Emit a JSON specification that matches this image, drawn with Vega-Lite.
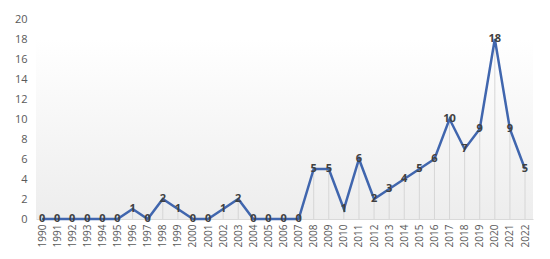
{
  "$schema": "https://vega.github.io/schema/vega-lite/v6.json",
  "width": 497,
  "height": 200,
  "autosize": {"type": "none"},
  "padding": {"left": 36, "top": 19, "right": 17, "bottom": 40},
  "background": "#ffffff",
  "config": {
    "view": {"stroke": null},
    "font": "Open Sans"
  },
  "data": {
    "values": [
      {"year": 1990, "count": 0}, {"year": 1991, "count": 0}, {"year": 1992, "count": 0},
      {"year": 1993, "count": 0}, {"year": 1994, "count": 0}, {"year": 1995, "count": 0},
      {"year": 1996, "count": 1}, {"year": 1997, "count": 0}, {"year": 1998, "count": 2},
      {"year": 1999, "count": 1}, {"year": 2000, "count": 0}, {"year": 2001, "count": 0},
      {"year": 2002, "count": 1}, {"year": 2003, "count": 2}, {"year": 2004, "count": 0},
      {"year": 2005, "count": 0}, {"year": 2006, "count": 0}, {"year": 2007, "count": 0},
      {"year": 2008, "count": 5}, {"year": 2009, "count": 5}, {"year": 2010, "count": 1},
      {"year": 2011, "count": 6}, {"year": 2012, "count": 2}, {"year": 2013, "count": 3},
      {"year": 2014, "count": 4}, {"year": 2015, "count": 5}, {"year": 2016, "count": 6},
      {"year": 2017, "count": 10}, {"year": 2018, "count": 7}, {"year": 2019, "count": 9},
      {"year": 2020, "count": 18}, {"year": 2021, "count": 9}, {"year": 2022, "count": 5}
    ]
  },
  "encoding": {
    "x": {
      "field": "year", "type": "quantitative",
      "scale": {"domain": [1989.6, 2022.53], "nice": false, "zero": false},
      "axis": {"values": [1990,1991,1992,1993,1994,1995,1996,1997,1998,1999,2000,2001,2002,2003,2004,2005,2006,2007,2008,2009,2010,2011,2012,2013,2014,2015,2016,2017,2018,2019,2020,2021,2022],
        "format": "d", "labelAngle": -90, "labelAlign": "right", "labelBaseline": "middle", "labelPadding": 5,
        "domain": true, "domainColor": "#d9d9d9", "labelFontSize": 10, "labelOverlap": false, "labelFlush": false,
        "labelColor": "#595959", "labelFont": "Open Sans", "grid": false, "ticks": false, "title": null}
    },
    "y": {
      "field": "count", "type": "quantitative",
      "scale": {"domain": [0, 20], "nice": false},
      "axis": {"values": [0,2,4,6,8,10,12,14,16,18,20], "domain": false, "labelPadding": 9, "labelFontSize": 11,
        "labelOverlap": false, "labelColor": "#595959", "labelFont": "Open Sans", "grid": false, "ticks": false, "title": null}
    }
  },
  "layer": [
    {
      "mark": {
        "type": "rect",
        "color": {"gradient": "linear", "x1": 0, "y1": 0, "x2": 0, "y2": 1,
          "stops": [{"offset": 0, "color": "#ffffff"}, {"offset": 1, "color": "#ededed"}]}
      },
      "encoding": {
        "x": {"datum": 1989.6, "type": "quantitative"},
        "x2": {"datum": 2022.53},
        "y": {"datum": 18, "type": "quantitative"},
        "y2": {"datum": 0}
      }
    },
    {
      "mark": {"type": "rule", "color": "#d6d6d6", "strokeWidth": 1},
      "encoding": {
        "y2": {"datum": 0}
      }
    },
    {
      "mark": {"type": "line", "color": "#4066AE", "strokeWidth": 2.5}
    },
    {
      "mark": {"type": "text", "color": "#404040", "fontSize": 11, "fontWeight": "bold", "align": "center", "baseline": "middle"},
      "encoding": {
        "text": {"field": "count", "type": "quantitative"}
      }
    }
  ]
}
